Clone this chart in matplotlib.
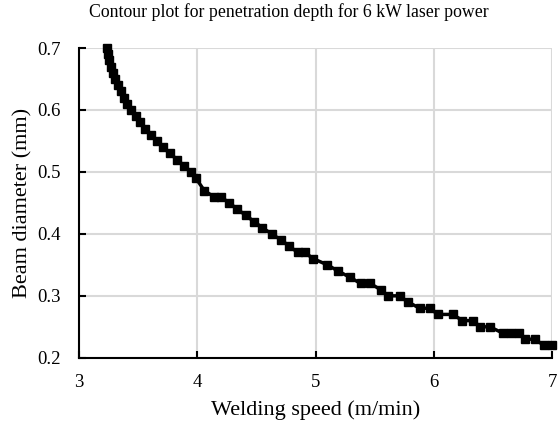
import matplotlib
matplotlib.use("Agg")
import matplotlib.pyplot as plt

# contour line points (welding speed, beam diameter)
speed = [3.24, 3.25, 3.26, 3.27, 3.29, 3.31, 3.33, 3.36, 3.38, 3.41,
         3.445, 3.48, 3.52, 3.56, 3.61, 3.66, 3.71, 3.77, 3.83, 3.89,
         3.95, 3.99, 4.06, 4.14, 4.20, 4.27, 4.34, 4.41, 4.48, 4.55,
         4.63, 4.71, 4.78, 4.85, 4.91, 4.98, 5.10, 5.19, 5.29, 5.38,
         5.46, 5.55, 5.61, 5.71, 5.78, 5.88, 5.97, 6.03, 6.16, 6.24,
         6.33, 6.39, 6.47, 6.58, 6.65, 6.72, 6.77, 6.85, 6.93, 7.00]
diameter = [0.70, 0.69, 0.68, 0.67, 0.66, 0.65, 0.64, 0.63, 0.62, 0.61,
            0.60, 0.59, 0.58, 0.57, 0.56, 0.55, 0.54, 0.53, 0.52, 0.51,
            0.50, 0.49, 0.47, 0.46, 0.46, 0.45, 0.44, 0.43, 0.42, 0.41,
            0.40, 0.39, 0.38, 0.37, 0.37, 0.36, 0.35, 0.34, 0.33, 0.32,
            0.32, 0.31, 0.30, 0.30, 0.29, 0.28, 0.28, 0.27, 0.27, 0.26,
            0.26, 0.25, 0.25, 0.24, 0.24, 0.24, 0.23, 0.23, 0.22, 0.22]

x_ticks = [3, 4, 5, 6, 7]
y_ticks = [0.2, 0.3, 0.4, 0.5, 0.6, 0.7]

plt.rcParams['font.family'] = ['Liberation Serif', 'DejaVu Serif']

fig = plt.figure(figsize=(5.58, 4.29), dpi=100)
ax = fig.add_axes([0.141, 0.166, 0.849, 0.722])

ax.plot(speed, diameter, color='black', linewidth=2.5, marker='s',
        markersize=6, clip_on=False, zorder=3)

ax.set_xlim(3, 7)
ax.set_ylim(0.2, 0.7)
ax.set_xticks(x_ticks)
ax.set_yticks(y_ticks)
ax.set_xticklabels([str(t) for t in x_ticks])
ax.set_yticklabels([f"{t:.1f}" for t in y_ticks])
ax.grid(True, color='#d9d9d9', linewidth=1.5)
ax.set_axisbelow(True)

for side in ['top', 'right']:
    ax.spines[side].set_visible(False)
for side in ['left', 'bottom']:
    ax.spines[side].set_linewidth(1.5)
    ax.spines[side].set_color('black')

ax.tick_params(direction='in', length=5, width=1.5, labelsize=13.5)
ax.tick_params(axis='y', pad=13)
ax.tick_params(axis='x', pad=12)

ax.set_xlabel('Welding speed (m/min)', fontsize=16, labelpad=6)
ax.set_ylabel('Beam diameter (mm)', fontsize=16, labelpad=3)
fig.suptitle('Contour plot for penetration depth for 6 kW laser power',
             fontsize=12.8, x=0.518, y=0.993, va='top')

fig.savefig('out.png', dpi=100)
